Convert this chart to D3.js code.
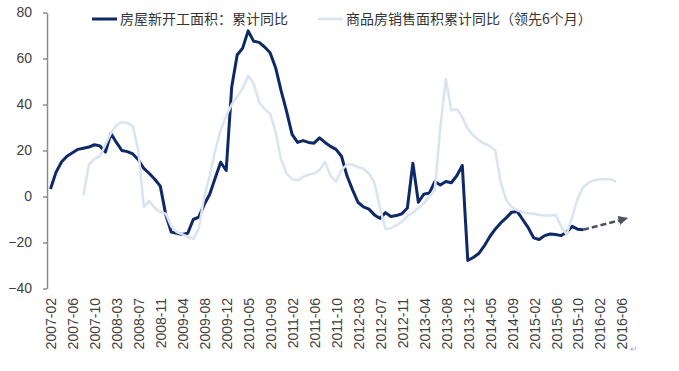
<!DOCTYPE html>
<html>
<head>
<meta charset="utf-8">
<script src="https://cdn.jsdelivr.net/npm/d3@7"></script>
<style>
  body { margin: 0; background: #fff; }
  text { font-family: "Liberation Sans", Arial, sans-serif; }
</style>
</head>
<body>
<svg id="chart" width="679" height="371"></svg>
<script>
// Tick labels, one every 4 monthly points (January is missing in the source)
const tickLabels = ["2007-02","2007-06","2007-10","2008-03","2008-07","2008-11","2009-04",
  "2009-08","2009-12","2010-05","2010-09","2011-02","2011-06","2011-10","2012-03","2012-07",
  "2012-11","2013-04","2013-08","2013-12","2014-05","2014-09","2015-02","2015-06","2015-10",
  "2016-02","2016-06"];
const yTicks = [-40, -20, 0, 20, 40, 60, 80];

// 房屋新开工面积：累计同比, from point 0
const newStarts = [3.3, 10.5, 15, 17.5, 19, 20.5, 21, 21.5, 22.5, 22,
  19.3, 27.4, 23.5, 20, 19.5, 18.5, 16, 12.2, 10, 7.5,
  4.5, -8, -15.5, -16, -16.5, -16, -10, -9, -3.5, 1,
  8, 14.9, 11.3, 47.5, 61.5, 64.5, 72, 67.5, 67, 65,
  62.5, 56, 46, 37, 27, 23.5, 24.3, 23.5, 23.2, 25.5,
  23.5, 21.8, 20.5, 17.5, 9, 3, -2.5, -4.5, -5.5, -8,
  -9.5, -7, -8.7, -8.3, -7.5, -5, 14.5, -2.5, 1, 1.5,
  6.5, 5, 6.5, 6, 9, 13.5, -27.8, -26.5, -24.8, -21.5,
  -17.5, -14.2, -11.5, -9.3, -6.8, -6.5, -10, -13.5, -18, -18.7,
  -17, -16.3, -16.5, -17, -15.5, -13, -14.2, -14.5];

// 商品房销售面积累计同比（领先6个月）, from point salesStart
const salesStart = 6;
const salesLead = [0.5, 14, 16.4, 17.5, 22.5, 27.5, 31, 32.3, 32, 30.5,
  20, -4.5, -2, -5, -6.8, -7.5, -13, -15.5, -16.5, -17.5,
  -18.5, -14, 0, 9, 20, 29, 35, 40, 43.5, 47,
  52.5, 49, 41, 38, 36, 28, 16, 10, 7.5, 7,
  8.5, 9.5, 10, 11.5, 15, 9, 6.5, 11.5, 14, 13.8,
  12.8, 12, 10, 6, -5, -14, -13.8, -12.5, -11, -8.5,
  -7, -5, -3, 0, 3, 30, 51, 37.5, 38, 34.5,
  29.5, 26.5, 24.5, 23, 22, 20, 6, -1.5, -4.6, -6,
  -6.8, -7.3, -7.5, -8, -8.3, -8.3, -8, -13, -16.5, -9,
  -1, 4, 6, 7, 7.5, 7.5, 7.5, 6.5];

// dashed trend arrow: from the last new-starts point to this projected point
const trendTarget = [105, -9.5];

const seriesNames = ["房屋新开工面积：累计同比", "商品房销售面积累计同比（领先6个月）"];

const svg = d3.select("#chart");

const x = d3.scaleLinear().domain([0, 104]).range([50.5, 621.5]);
const y = d3.scaleLinear().domain([-40, 80]).range([288.5, 12.5]);

const darkColor = "#0f2866";
const lightColor = "#dae4f0";

// y axis
const yAxis = svg.append("g")
  .attr("transform", "translate(47,0)")
  .call(d3.axisLeft(y).tickValues(yTicks).tickSize(4).tickSizeOuter(0).tickPadding(11));
yAxis.select(".domain").attr("stroke", "#8c8c8c").attr("stroke-width", 1.5);
yAxis.selectAll(".tick line").attr("stroke", "#8c8c8c").attr("stroke-width", 1.5);
yAxis.selectAll(".tick text")
  .attr("fill", "#404040")
  .style("font-size", "14px")
  .style("font-family", "'Liberation Sans', Arial, sans-serif");

// x tick labels, rotated
svg.append("g")
  .selectAll("text")
  .data(tickLabels)
  .join("text")
  .attr("transform", (d, i) => `translate(${x(i * 4)},298) rotate(-90)`)
  .attr("text-anchor", "end")
  .attr("dy", "0.42em")
  .attr("fill", "#404040")
  .style("font-size", "14px")
  .text(d => d);

svg.append("text")
  .attr("x", 630).attr("y", 352)
  .attr("fill", "#b0b0b0")
  .style("font-size", "9px")
  .text("↵");

const line = d3.line()
  .x(d => x(d[0]))
  .y(d => y(d[1]));

const darkPts = newStarts.map((v, i) => [i, v]);
const lightPts = salesLead.map((v, i) => [i + salesStart, v]);

svg.append("path")
  .attr("d", line(darkPts))
  .attr("fill", "none")
  .attr("stroke", darkColor)
  .attr("stroke-width", 3)
  .attr("stroke-linejoin", "round");

svg.append("path")
  .attr("d", line(lightPts))
  .attr("fill", "none")
  .attr("stroke", lightColor)
  .attr("stroke-width", 2.5)
  .attr("stroke-linejoin", "round");

// trend arrow
const defs = svg.append("defs");
defs.append("marker")
  .attr("id", "arrow")
  .attr("viewBox", "0 0 10 10")
  .attr("refX", 9).attr("refY", 5)
  .attr("markerWidth", 3.6).attr("markerHeight", 3.6)
  .attr("markerUnits", "strokeWidth")
  .attr("orient", "auto")
  .append("path")
  .attr("d", "M0,0L10,5L0,10Z")
  .attr("fill", "#4a5262");

const lastPt = darkPts[darkPts.length - 1];
svg.append("path")
  .attr("d", line([lastPt, trendTarget]))
  .attr("fill", "none")
  .attr("stroke", "#4a5262")
  .attr("stroke-width", 2.6)
  .attr("stroke-dasharray", "6,3")
  .attr("marker-end", "url(#arrow)");

// legend
const legend = svg.append("g");
const legendItems = [
  { name: seriesNames[0], color: darkColor, w: 3, x0: 92 },
  { name: seriesNames[1], color: lightColor, w: 2.5, x0: 318 }
];
legendItems.forEach(d => {
  legend.append("line")
    .attr("x1", d.x0).attr("x2", d.x0 + 25)
    .attr("y1", 19).attr("y2", 19)
    .attr("stroke", d.color).attr("stroke-width", d.w);
  legend.append("text")
    .attr("x", d.x0 + 28).attr("y", 24)
    .attr("fill", "#333")
    .style("font-size", "14px")
    .style("font-family", "'Noto Sans CJK SC', sans-serif")
    .text(d.name);
});
</script>
</body>
</html>
